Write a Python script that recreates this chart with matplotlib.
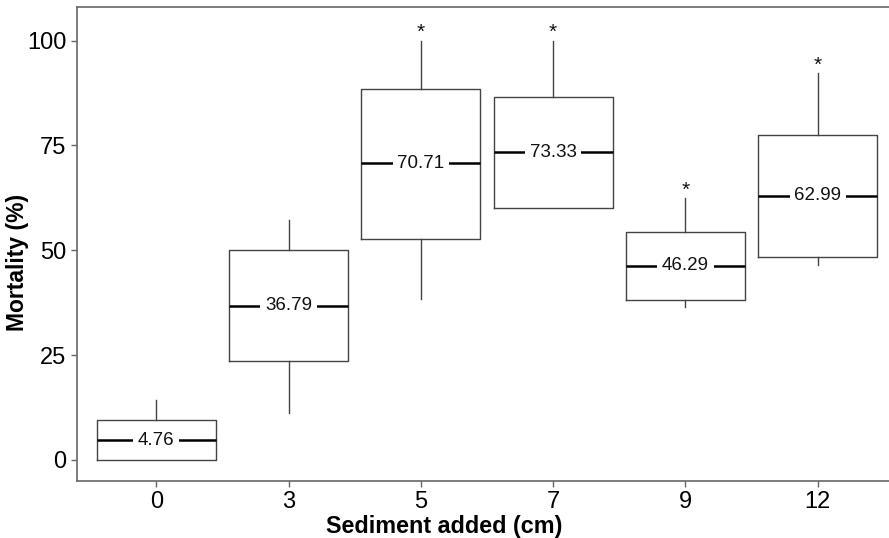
import matplotlib
matplotlib.use("Agg")
import matplotlib.pyplot as plt

# ---------------------------------------------------------------------------
# data
# ---------------------------------------------------------------------------
sediment = ["0", "3", "5", "7", "9", "12"]
whisker_lo = [0.0, 11.1, 38.5, 60.0, 36.5, 46.5]
q1 = [0.0, 23.5, 52.8, 60.0, 38.2, 48.3]
median = [4.76, 36.79, 70.71, 73.33, 46.29, 62.99]
q3 = [9.52, 50.0, 88.5, 86.6, 54.3, 77.6]
whisker_hi = [14.29, 57.14, 100.0, 100.0, 62.4, 92.3]
significant = [False, False, True, True, True, True]

plt.rcParams["font.family"] = ["Liberation Sans", "DejaVu Sans"]

fig = plt.figure(figsize=(8.89, 5.38), dpi=100)
ax = fig.add_axes([0.0866, 0.106, 0.9225, 0.881])

stats = [
    dict(label=lab, whislo=wl, q1=a, med=m, q3=b, whishi=wh)
    for lab, wl, a, m, b, wh in zip(sediment, whisker_lo, q1, median, q3, whisker_hi)
]
box_col = "#444444"
ax.bxp(
    stats, positions=range(len(stats)), widths=0.9, showfliers=False,
    showcaps=False,
    boxprops=dict(color=box_col, linewidth=1.0),
    whiskerprops=dict(color=box_col, linewidth=1.0),
    medianprops=dict(color="black", linewidth=1.8),
)

for i, m in enumerate(median):
    ax.text(i, m, f"{m:.2f}", ha="center", va="center", fontsize=13.5,
            color="#111111",
            bbox=dict(boxstyle="square,pad=0.25", fc="white", ec="none"))
    if significant[i]:
        ax.text(i, whisker_hi[i] - 0.4, "*", ha="center", va="bottom",
                fontsize=15, color="#111111")

ax.set_xlim(-0.6, 5.6)
ax.set_ylim(-5, 108)
ax.set_yticks([0, 25, 50, 75, 100])
ax.set_xticks(range(len(sediment)))
ax.set_xticklabels(sediment)

for side in ("top", "bottom", "left", "right"):
    ax.spines[side].set_color("#666666")
    ax.spines[side].set_linewidth(1.2)
ax.tick_params(axis="both", colors="#666666", labelcolor="black",
               labelsize=17, length=4, width=1)

ax.set_xlabel("Sediment added (cm)", fontsize=16.8, fontweight="bold")
ax.set_ylabel("Mortality (%)", fontsize=16.5, fontweight="bold")
ax.xaxis.set_label_coords(0.4476, -0.072)
ax.yaxis.set_label_coords(-0.058, 0.461)

fig.savefig("out.png", dpi=100)
